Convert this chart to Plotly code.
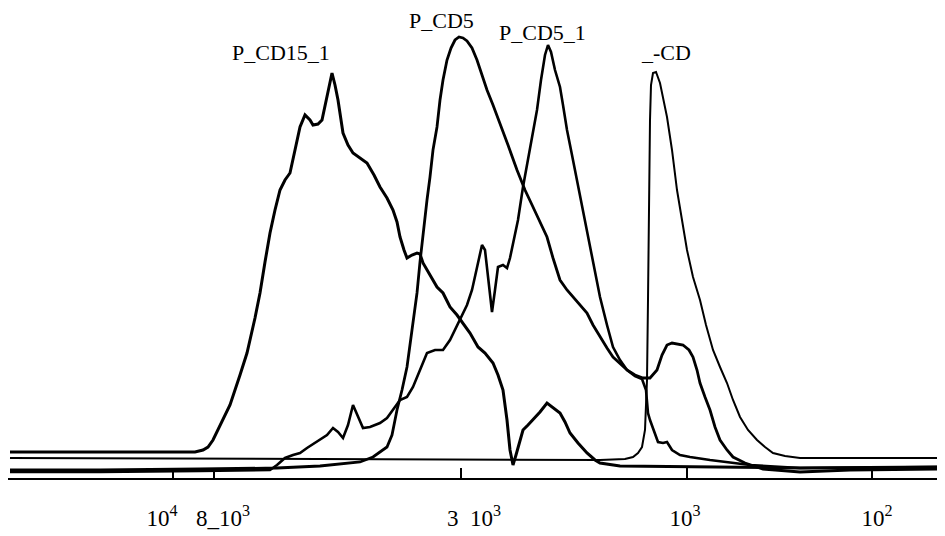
import plotly.graph_objects as go

# Elution position (arbitrary retention units) and detector response
pcd15_1_x = [10, 100, 195, 203, 208, 213, 220, 230, 240, 247, 255, 260, 265, 270, 275, 280, 285, 290, 295, 300,
             305, 310, 313, 318, 322, 327, 330, 332, 335, 338, 343, 348, 353, 360, 367, 374, 380, 387, 393, 397,
             400, 404, 407, 412, 417, 420, 423, 430, 437, 443, 450, 457, 463, 470, 478, 485, 493, 498, 503, 507,
             510, 513, 516, 520, 523, 528, 533, 540, 547, 553, 560, 565, 570, 578, 587, 595, 600, 620, 700, 800, 945]
pcd15_1_y = [26, 26, 26, 28, 31, 38, 53, 73, 103, 125, 160, 185, 216, 245, 268, 288, 298, 305, 328, 351,
             363, 358, 353, 354, 358, 381, 398, 405, 393, 378, 345, 333, 325, 320, 315, 303, 291, 280, 268, 256,
             241, 228, 220, 223, 225, 224, 215, 203, 191, 185, 171, 163, 155, 145, 131, 125, 115, 103, 88, 58,
             28, 13, 23, 38, 48, 53, 58, 66, 75, 70, 65, 56, 45, 35, 25, 18, 15, 12, 11, 10, 11]

pcd5_x = [10, 100, 200, 277, 320, 360, 373, 380, 387, 392, 397, 402, 407, 412, 417, 420, 423, 427, 430, 433,
          437, 440, 443, 447, 451, 455, 459, 463, 467, 472, 477, 482, 487, 493, 500, 508, 517, 525, 533, 540,
          547, 553, 560, 567, 573, 580, 587, 593, 600, 607, 613, 620, 627, 635, 643, 650, 657, 662, 667, 672,
          683, 689, 693, 697, 700, 705, 710, 715, 720, 727, 733, 745, 763, 800, 850, 945]
pcd5_y = [8, 8, 9, 10, 12, 16, 21, 26, 31, 43, 68, 88, 111, 148, 185, 216, 245, 278, 301, 328,
          351, 378, 398, 418, 430, 438, 441, 440, 437, 430, 418, 403, 388, 373, 355, 333, 308, 288, 271, 256,
          241, 220, 198, 188, 181, 173, 165, 153, 141, 130, 121, 114, 108, 103, 100, 100, 108, 123, 133, 135,
          133, 128, 121, 108, 95, 81, 68, 51, 38, 28, 21, 15, 9, 6, 8, 9]

pcd5_1_x = [10, 100, 200, 270, 277, 285, 293, 300, 307, 313, 320, 327, 333, 338, 343, 348, 353, 357, 363, 370,
            380, 387, 393, 400, 407, 413, 420, 427, 435, 443, 450, 460, 467, 472, 477, 480, 482, 485, 488, 492,
            495, 498, 503, 507, 510, 514, 518, 523, 530, 537, 541, 545, 548, 551, 555, 560, 563, 567, 572, 577,
            582, 587, 593, 600, 607, 613, 620, 627, 635, 642, 646, 648, 650, 653, 658, 663, 667, 672, 680, 690,
            710, 750, 800, 945]
pcd5_1_y = [6, 6, 7, 8, 13, 20, 23, 25, 30, 34, 38, 43, 50, 46, 40, 53, 73, 63, 50, 51,
            55, 60, 68, 78, 81, 91, 108, 125, 128, 128, 138, 158, 173, 188, 210, 223, 233, 228, 203, 166,
            188, 211, 213, 210, 220, 238, 258, 291, 328, 368, 398, 423, 433, 426, 408, 391, 373, 348, 323, 298,
            273, 248, 216, 181, 153, 131, 118, 108, 102, 99, 88, 65, 58, 50, 36, 35, 36, 28, 23, 21,
            18, 13, 10, 11]

cd_x = [10, 300, 600, 625, 633, 638, 642, 645, 647, 648, 649, 650, 651, 653, 656, 660, 667, 672, 677, 682,
        687, 693, 700, 706, 713, 720, 727, 733, 740, 748, 757, 765, 773, 785, 800, 945]
cd_y = [20, 19, 18, 19, 21, 25, 31, 48, 98, 178, 278, 358, 393, 405, 406, 395, 361, 328, 288, 256,
        228, 201, 178, 153, 128, 111, 95, 78, 61, 48, 38, 31, 25, 22, 20, 20]

# Molecular-weight calibration marks on the elution axis
tick_pos = [173, 214, 461, 687, 872]
tick_labels = ["10<sup>4</sup>", "8_10<sup>3</sup>", "3\u00a0\u00a010<sup>3</sup>", "10<sup>3</sup>", "10<sup>2</sup>"]
# where the calibration labels are centred (they sit a little off their marks)
tick_label_pos = [162, 223, 474, 685, 877]

# Peak labels
peak_names = ["P_CD15_1", "P_CD5", "P_CD5_1", "_-CD"]
peak_label_x = [281, 441, 542, 666]
peak_label_y = [426, 458, 446, 426]

SERIF = "Liberation Serif, Times New Roman, Times, serif"

fig = go.Figure()
series = [
    ("P_CD15_1", pcd15_1_x, pcd15_1_y, 3.0),
    ("P_CD5", pcd5_x, pcd5_y, 2.8),
    ("P_CD5_1", pcd5_1_x, pcd5_1_y, 2.6),
    ("_-CD", cd_x, cd_y, 2.0),
]
for name, xs, ys, w in series:
    fig.add_trace(go.Scatter(x=xs, y=ys, mode="lines", name=name,
                             line=dict(color="black", width=w), showlegend=False))

for name, lx, ly in zip(peak_names, peak_label_x, peak_label_y):
    fig.add_annotation(x=lx, y=ly, text=name, showarrow=False,
                       font=dict(family=SERIF, size=22, color="black"),
                       xanchor="center", yanchor="middle")

# the page body adds an 8 px margin, so the figure is 8 px smaller each way
fig.update_layout(
    width=937, height=528,
    margin=dict(l=0, r=0, t=0, b=58, autoexpand=False),
    paper_bgcolor="white", plot_bgcolor="white",
    font=dict(family=SERIF, size=22, color="black"),
    xaxis=dict(range=[8, 945], showgrid=False, zeroline=False, showline=True,
               linecolor="black", linewidth=2, ticks="inside", ticklen=10,
               tickwidth=2, tickcolor="black", tickvals=tick_pos, showticklabels=False,
               automargin=False),
    # second axis carries the calibration labels at their own positions
    xaxis2=dict(range=[8, 945], overlaying="x", side="bottom", anchor="y",
                showgrid=False, zeroline=False, showline=False, ticks="",
                tickvals=tick_label_pos, ticktext=tick_labels, tickangle=0,
                tickfont=dict(family=SERIF, size=23, color="black"),
                ticklabelstandoff=24, automargin=False),
    yaxis=dict(range=[0, 470], visible=False, automargin=False),
)
# an invisible trace so the label axis is drawn
fig.add_trace(go.Scatter(x=[tick_label_pos[0]], y=[0], xaxis="x2", mode="markers",
                         marker=dict(opacity=0), showlegend=False, hoverinfo="skip"))

fig.write_html("out.html")
